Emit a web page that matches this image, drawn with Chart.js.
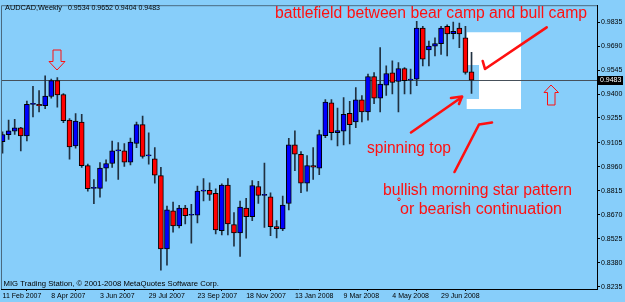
<!DOCTYPE html>
<html>
<head>
<meta charset="utf-8">
<script src="https://cdn.jsdelivr.net/npm/chart.js@4/dist/chart.umd.min.js"></script>
<style>
  html, body { margin: 0; padding: 0; background: #87cefa; }
  #wrap { width: 625px; height: 302px; }
</style>
</head>
<body>
<div id="wrap"><canvas id="chart" width="625" height="302"></canvas></div>
<script>
// AUDCAD weekly, one candle per week from 11 Feb 2007
const opens = [0.9112,0.9154,0.9176,0.9196,0.9146,0.9337,0.9337,0.9329,0.9385,0.9481,
  0.9397,0.9242,0.9086,0.9231,0.8967,0.8829,0.8829,0.8952,0.8980,0.9056,
  0.9056,0.8988,0.9102,0.9215,0.9026,0.9008,0.8907,0.8464,0.8693,0.8602,
  0.8710,0.8667,0.8667,0.8813,0.8817,0.8799,0.8574,0.8849,0.8611,0.8560,
  0.8710,0.8658,0.8841,0.8787,0.8779,0.8598,0.8585,0.8739,0.9092,0.9036,
  0.8861,0.8968,0.8952,0.9148,0.9347,0.9167,0.9176,0.9283,0.9231,0.9365,
  0.9291,0.9506,0.9375,0.9454,0.9528,0.9476,0.9554,0.9484,0.9490,0.9799,
  0.9666,0.9690,0.9705,0.9809,0.9765,0.9799,0.9739,0.9534];
const highs = [0.9172,0.9242,0.9247,0.9198,0.9357,0.9447,0.9421,0.9510,0.9490,0.9500,
  0.9402,0.9251,0.9281,0.9277,0.8976,0.8883,0.8986,0.9002,0.9116,0.9106,
  0.9100,0.9134,0.9231,0.9267,0.9166,0.9076,0.8956,0.8723,0.8747,0.8727,
  0.8727,0.8733,0.8843,0.8889,0.8863,0.8827,0.8857,0.8889,0.8683,0.8753,
  0.8769,0.8877,0.8872,0.8982,0.8803,0.8634,0.8783,0.9132,0.9178,0.9052,
  0.9028,0.9076,0.9182,0.9367,0.9367,0.9315,0.9379,0.9355,0.9439,0.9391,
  0.9520,0.9530,0.9680,0.9570,0.9600,0.9590,0.9560,0.9550,0.9839,0.9809,
  0.9720,0.9739,0.9809,0.9819,0.9835,0.9829,0.9809,0.9652];
const lows = [0.9042,0.9126,0.9155,0.9056,0.9116,0.9261,0.9291,0.9311,0.9375,0.9321,
  0.9227,0.9006,0.9072,0.8956,0.8813,0.8737,0.8777,0.8873,0.8956,0.8883,
  0.8962,0.8972,0.9076,0.9012,0.8976,0.8861,0.8335,0.8365,0.8564,0.8590,
  0.8614,0.8498,0.8620,0.8753,0.8757,0.8554,0.8548,0.8548,0.8480,0.8418,
  0.8528,0.8634,0.8739,0.8594,0.8544,0.8530,0.8574,0.8699,0.8937,0.8803,
  0.8813,0.8883,0.8913,0.9136,0.9122,0.9086,0.9092,0.9098,0.9196,0.9231,
  0.9242,0.9341,0.9291,0.9391,0.9400,0.9291,0.9400,0.9400,0.9451,0.9570,
  0.9570,0.9630,0.9640,0.9630,0.9733,0.9680,0.9520,0.9404];
const closes = [0.9155,0.9178,0.9196,0.9146,0.9337,0.9337,0.9329,0.9387,0.9481,0.9395,
  0.9239,0.9080,0.9236,0.8967,0.8827,0.8829,0.8952,0.8980,0.9056,0.9056,
  0.8988,0.9110,0.9215,0.9022,0.9026,0.8909,0.8464,0.8699,0.8602,0.8710,
  0.8665,0.8667,0.8813,0.8813,0.8793,0.8578,0.8849,0.8614,0.8560,0.8717,
  0.8658,0.8847,0.8787,0.8787,0.8598,0.8586,0.8729,0.9092,0.9036,0.8861,
  0.8968,0.8958,0.9155,0.9351,0.9167,0.9179,0.9277,0.9215,0.9365,0.9291,
  0.9506,0.9375,0.9460,0.9524,0.9470,0.9554,0.9481,0.9484,0.9799,0.9610,
  0.9690,0.9705,0.9799,0.9763,0.9779,0.9763,0.9530,0.9483];

const dateLabels = ["11 Feb 2007","8 Apr 2007","3 Jun 2007","29 Jul 2007","23 Sep 2007",
  "18 Nov 2007","13 Jan 2008","9 Mar 2008","4 May 2008","29 Jun 2008"];
const dateIndex = [0, 8, 16, 24, 32, 40, 48, 56, 64, 72];
const priceTicks = [0.9835,0.9690,0.9545,0.9400,0.9255,0.9105,0.8960,0.8815,0.8670,0.8525,0.8380,0.8235];
const lastPrice = 0.9483;

const BG = '#87cefa';
const UP = '#0000ff', DOWN = '#ff0000', WICK = '#203040';
const tickFont = { family: '"Liberation Sans", Arial, sans-serif', size: 7 };

function fitText(ctx, txt, x1, x2, base, size, color) {
  ctx.save();
  ctx.font = size + 'px "Liberation Sans", Arial, sans-serif';
  const w = ctx.measureText(txt).width;
  ctx.translate(x1, base);
  ctx.scale((x2 - x1) / w, 1);
  ctx.fillStyle = color;
  ctx.textBaseline = 'alphabetic';
  ctx.textAlign = 'left';
  ctx.fillText(txt, 0, 0);
  ctx.restore();
}

function poly(ctx, pts) {
  ctx.beginPath();
  ctx.moveTo(pts[0][0], pts[0][1]);
  for (let k = 1; k < pts.length; k++) ctx.lineTo(pts[k][0], pts[k][1]);
}

const backdrop = {
  id: 'backdrop',
  beforeDraw(chart) {
    const ctx = chart.ctx;
    ctx.save();
    ctx.fillStyle = BG;
    ctx.fillRect(0, 0, chart.width, chart.height);
    ctx.restore();
  },
  beforeDatasetsDraw(chart) {
    const ctx = chart.ctx, a = chart.chartArea;
    const y = chart.scales.y.getPixelForValue(lastPrice);
    ctx.save();
    // white box drawn by hand on the original
    ctx.fillStyle = '#ffffff';
    poly(ctx, [[466.7,32.3],[521,32.3],[521,109],[466.7,109],[466.7,99],[479,99],[479,65],[466.7,65]]);
    ctx.closePath();
    ctx.fill();
    // current price line
    ctx.strokeStyle = '#46505a';
    ctx.lineWidth = 1;
    ctx.beginPath();
    ctx.moveTo(a.left, Math.round(y) + 0.5);
    ctx.lineTo(a.right, Math.round(y) + 0.5);
    ctx.stroke();
    ctx.restore();
  },
  afterDraw(chart) {
    const ctx = chart.ctx, a = chart.chartArea;
    const y = chart.scales.y.getPixelForValue(lastPrice);
    ctx.save();
    // top / left frame
    ctx.strokeStyle = '#4a6a80';
    ctx.lineWidth = 1;
    ctx.beginPath();
    ctx.moveTo(a.left + 0.5, a.bottom);
    ctx.lineTo(a.left + 0.5, a.top + 0.5);
    ctx.lineTo(a.right, a.top + 0.5);
    ctx.stroke();

    // price tag
    ctx.fillStyle = '#000';
    ctx.fillRect(597, Math.round(y) - 4, 26, 9);
    ctx.font = '7px "Liberation Sans", Arial, sans-serif';
    ctx.fillStyle = '#fff';
    ctx.textBaseline = 'middle';
    ctx.fillText(lastPrice.toFixed(4), 600, Math.round(y) + 0.5);

    // header and footer
    fitText(ctx, 'AUDCAD,Weekly', 5, 62, 10, 8, '#000');
    fitText(ctx, [opens[77], highs[77], lows[77], closes[77]].map(v => v.toFixed(4)).join(' '), 68, 160, 10, 8, '#000');
    fitText(ctx, 'MIG Trading Station, \u00a9 2001-2008 MetaQuotes Software Corp.', 3.5, 219, 285.5, 8, '#000');

    // red annotations
    fitText(ctx, 'battlefield between bear camp and bull camp', 275, 587, 18, 16, '#ff1010');
    fitText(ctx, 'spinning top', 367, 451, 152.5, 16, '#ff1010');
    fitText(ctx, 'bullish morning star pattern', 383, 572, 195, 16, '#ff1010');
    fitText(ctx, 'or bearish continuation', 400, 562, 214, 16, '#ff1010');

    ctx.strokeStyle = '#ff1010';
    ctx.lineWidth = 1;
    // hollow arrows
    poly(ctx, [[53,50],[61,50],[61,61.5],[65,61.5],[57,70],[49,61.5],[53,61.5]]);
    ctx.closePath();
    ctx.stroke();
    poly(ctx, [[551,85],[558.5,92.5],[555,92.5],[555,105],[547.5,105],[547.5,92.5],[544,92.5]]);
    ctx.closePath();
    ctx.stroke();
    ctx.beginPath();
    ctx.arc(399, 199.3, 1.3, 0, Math.PI * 2);
    ctx.stroke();

    // hand drawn strokes
    ctx.lineWidth = 2.6;
    ctx.lineCap = 'round';
    ctx.lineJoin = 'round';
    poly(ctx, [[482.7,61],[485,69],[546.7,27.3]]);
    ctx.stroke();
    poly(ctx, [[411,132.5],[462,97]]);
    ctx.stroke();
    poly(ctx, [[451,98],[462,96.5],[459,104]]);
    ctx.stroke();
    poly(ctx, [[492,122.5],[479,124.5],[454.5,172]]);
    ctx.stroke();
    ctx.restore();
  }
};

const idx = opens.map((o, i) => i);

new Chart(document.getElementById('chart'), {
  type: 'bar',
  data: {
    datasets: [
      {
        label: 'body',
        data: idx.map(i => ({ x: i, y: [opens[i], closes[i]] })),
        backgroundColor: idx.map(i => closes[i] >= opens[i] ? UP : DOWN),
        borderColor: '#000',
        borderWidth: 1,
        borderSkipped: false,
        barThickness: 5,
        minBarLength: 1,
        grouped: false,
        order: 1
      },
      {
        label: 'wick',
        data: idx.map(i => ({ x: i, y: [lows[i], highs[i]] })),
        backgroundColor: WICK,
        borderWidth: 0,
        barThickness: 1,
        grouped: false,
        order: 2
      }
    ]
  },
  options: {
    responsive: false,
    animation: false,
    events: [],
    layout: { padding: { left: 1, top: 2, right: 0, bottom: 0 } },
    plugins: { legend: { display: false }, tooltip: { enabled: false } },
    scales: {
      x: {
        type: 'linear',
        min: -0.25,
        max: 97.6,
        offset: false,
        afterBuildTicks: axis => { axis.ticks = dateIndex.map(v => ({ value: v })); },
        afterFit: axis => { axis.height = 13; },
        ticks: {
          autoSkip: false,
          maxRotation: 0,
          align: 'start',
          padding: 1,
          color: '#000',
          font: tickFont,
          callback: v => dateLabels[dateIndex.indexOf(v)]
        },
        grid: { drawOnChartArea: false, drawTicks: true, tickLength: 2, color: '#000' },
        border: { display: true, color: '#000' }
      },
      y: {
        position: 'right',
        min: 0.8221,
        max: 0.9937,
        afterBuildTicks: axis => { axis.ticks = priceTicks.map(v => ({ value: v })); },
        afterFit: axis => { axis.width = 28; },
        ticks: {
          autoSkip: false,
          padding: 1,
          color: '#000',
          font: tickFont,
          callback: v => v.toFixed(4)
        },
        grid: { drawOnChartArea: false, drawTicks: true, tickLength: 3, color: '#000' },
        border: { display: true, color: '#000' }
      }
    }
  },
  plugins: [backdrop]
});
</script>
</body>
</html>
